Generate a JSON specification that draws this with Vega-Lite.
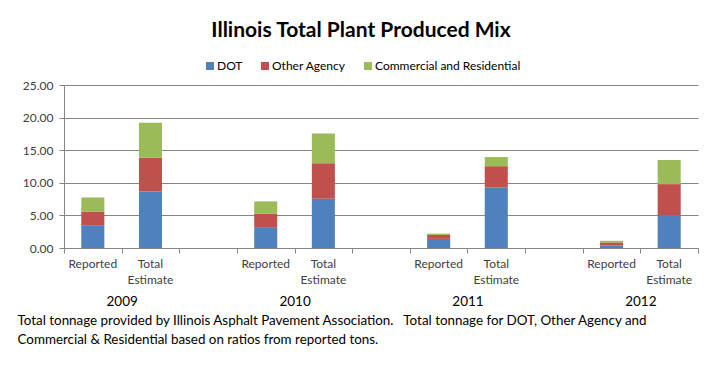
{
  "$schema": "https://vega.github.io/schema/vega-lite/v6.json",
  "width": 634,
  "height": 163,
  "autosize": {"type": "none"},
  "padding": {"left": 64, "top": 85, "right": 11, "bottom": 123},
  "background": "white",
  "config": {
    "font": "Lato",
    "view": {"stroke": null},
    "axis": {"labelFont": "Lato", "titleFont": "Lato", "labelColor": "#404040", "titleColor": "#000000"}
  },
  "title": {
    "text": "Illinois Total Plant Produced Mix",
    "font": "Lato",
    "fontSize": 21,
    "fontWeight": "bold",
    "color": "#000000",
    "anchor": "middle",
    "dx": -20,
    "offset": 19
  },
  "data": {
    "values": [
      {"slot": "2009 Reported", "series": "DOT", "value": 3.5},
      {"slot": "2009 Reported", "series": "Other Agency", "value": 2.1},
      {"slot": "2009 Reported", "series": "Commercial and Residential", "value": 2.15},
      {"slot": "2009 Total Estimate", "series": "DOT", "value": 8.65},
      {"slot": "2009 Total Estimate", "series": "Other Agency", "value": 5.2},
      {"slot": "2009 Total Estimate", "series": "Commercial and Residential", "value": 5.35},
      {"slot": "2010 Reported", "series": "DOT", "value": 3.1},
      {"slot": "2010 Reported", "series": "Other Agency", "value": 2.15},
      {"slot": "2010 Reported", "series": "Commercial and Residential", "value": 1.9},
      {"slot": "2010 Total Estimate", "series": "DOT", "value": 7.55},
      {"slot": "2010 Total Estimate", "series": "Other Agency", "value": 5.45},
      {"slot": "2010 Total Estimate", "series": "Commercial and Residential", "value": 4.55},
      {"slot": "2011 Reported", "series": "DOT", "value": 1.4},
      {"slot": "2011 Reported", "series": "Other Agency", "value": 0.6},
      {"slot": "2011 Reported", "series": "Commercial and Residential", "value": 0.2},
      {"slot": "2011 Total Estimate", "series": "DOT", "value": 9.25},
      {"slot": "2011 Total Estimate", "series": "Other Agency", "value": 3.3},
      {"slot": "2011 Total Estimate", "series": "Commercial and Residential", "value": 1.4},
      {"slot": "2012 Reported", "series": "DOT", "value": 0.4},
      {"slot": "2012 Reported", "series": "Other Agency", "value": 0.45},
      {"slot": "2012 Reported", "series": "Commercial and Residential", "value": 0.25},
      {"slot": "2012 Total Estimate", "series": "DOT", "value": 5.0},
      {"slot": "2012 Total Estimate", "series": "Other Agency", "value": 4.8},
      {"slot": "2012 Total Estimate", "series": "Commercial and Residential", "value": 3.7}
    ]
  },
  "layer": [
    {
      "transform": [
        {"calculate": "indexof(['DOT', 'Other Agency', 'Commercial and Residential'], datum.series)", "as": "stackOrder"}
      ],
      "mark": {"type": "bar", "width": {"band": 0.4}},
      "encoding": {
        "x": {
          "field": "slot",
          "type": "nominal",
          "sort": null,
          "scale": {
            "domain": ["2009 Reported", "2009 Total Estimate", "gap1", "2010 Reported", "2010 Total Estimate", "gap2", "2011 Reported", "2011 Total Estimate", "gap3", "2012 Reported", "2012 Total Estimate"],
            "paddingInner": 0,
            "paddingOuter": 0
          },
          "axis": {
            "orient": "bottom",
            "title": null,
            "domain": false,
            "ticks": false,
            "grid": false,
            "labelAngle": 0,
            "labelFontSize": 12,
            "labelPadding": 10,
            "labelLineHeight": 16,
            "labelBaseline": "top",
            "labelExpr": "indexof(datum.label, 'Reported') >= 0 ? 'Reported' : (indexof(datum.label, 'Total') >= 0 ? ['Total', 'Estimate'] : '')"
          }
        },
        "y": {
          "field": "value",
          "type": "quantitative",
          "aggregate": "sum",
          "stack": "zero",
          "scale": {"domain": [0, 25], "nice": false},
          "axis": {
            "title": null,
            "values": [0, 5, 10, 15, 20, 25],
            "format": ".2f",
            "labelFontSize": 12,
            "labelPadding": 6,
            "tickSize": 5,
            "tickColor": "#868686",
            "domainColor": "#868686",
            "gridColor": "#868686",
            "gridWidth": 1
          }
        },
        "color": {
          "field": "series",
          "type": "nominal",
          "sort": ["DOT", "Other Agency", "Commercial and Residential"],
          "scale": {
            "domain": ["DOT", "Other Agency", "Commercial and Residential"],
            "range": ["#4F81BD", "#C0504D", "#9BBB59"]
          },
          "legend": {
            "title": null,
            "orient": "none",
            "direction": "horizontal",
            "legendX": 140,
            "legendY": -25,
            "symbolType": "square",
            "symbolSize": 64,
            "symbolStrokeWidth": 0,
            "labelFontSize": 12,
            "labelColor": "#000000",
            "labelOffset": 1,
            "columnPadding": 16
          }
        },
        "order": {"field": "stackOrder", "type": "quantitative", "sort": "ascending"}
      }
    },
    {
      "mark": {"type": "rule", "opacity": 0},
      "encoding": {
        "x": {
          "datum": 0,
          "type": "quantitative",
          "scale": {"domain": [0, 11], "nice": false, "zero": false},
          "axis": {
            "orient": "bottom",
            "values": [0, 1, 2, 3, 4, 5, 6, 7, 8, 9, 10, 11],
            "grid": false,
            "domain": true,
            "domainColor": "#868686",
            "ticks": true,
            "tickSize": 5,
            "tickColor": "#868686",
            "labelFontSize": 13.5,
            "labelColor": "#000000",
            "labelPadding": 41,
            "labelBaseline": "top",
            "labelFlush": false,
            "labelOverlap": false,
            "labelExpr": "datum.value == 1 ? '2009' : datum.value == 4 ? '2010' : datum.value == 7 ? '2011' : datum.value == 10 ? '2012' : ''",
            "title": ["Total tonnage provided by Illinois Asphalt Pavement Association.\u00a0\u00a0 Total tonnage for DOT, Other Agency and", "Commercial & Residential based on ratios from reported tons."],
            "titleFontSize": 13.4,
            "titleFontWeight": "normal",
            "titleAnchor": "start",
            "titleAlign": "left",
            "titleBaseline": "top",
            "titleX": -47,
            "titleY": 65,
            "titleLineHeight": 19,
            "titleColor": "#000000"
          }
        }
      }
    }
  ],
  "resolve": {"scale": {"x": "independent"}, "axis": {"x": "independent"}}
}
